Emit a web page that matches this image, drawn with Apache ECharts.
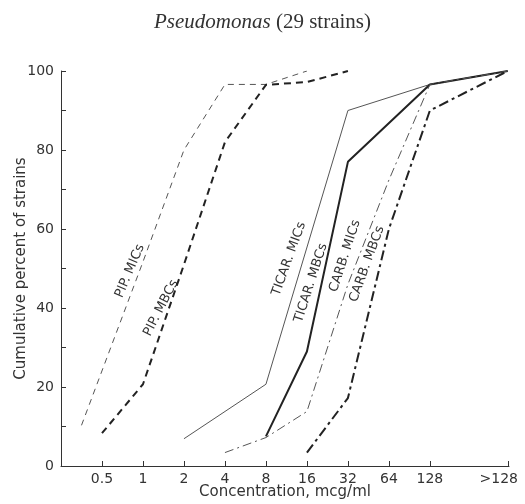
<!DOCTYPE html>
<html>
<head>
<meta charset="utf-8">
<script src="https://cdn.jsdelivr.net/npm/echarts@6/dist/echarts.min.js"></script>
<style>html,body{margin:0;padding:0;background:#fff}#c{width:525px;height:504px}</style>
</head>
<body>
<div id="c"></div>
<script>
// x positions are log2 of concentration (mcg/ml); ">128" placed past 128
const xTickLabels = ['0.5','1','2','4','8','16','32','64','128','>128'];
const xTickPos = [-1, 0, 1, 2, 3, 4, 5, 6, 7, 8.9];
const xLabelPos = [-1, 0, 1, 2, 3, 4, 5, 6, 7, 8.68];
const yTickLabels = [0, 20, 40, 60, 80, 100];
const yTicks = [0, 10, 20, 30, 40, 50, 60, 70, 80, 90, 100];

const pipMICs   = [[-1.5, 10.3], [0, 51.7], [1, 80], [2, 96.6], [3, 96.6], [4, 100]];
const pipMBCs   = [[-1, 8.3], [0, 20.7], [1, 51], [2, 82], [3, 96.5], [4, 97.2], [5, 100]];
const ticarMICs = [[1, 6.9], [3, 20.7], [5, 90], [7, 96.6], [8.9, 100]];
const ticarMBCs = [[3, 7.5], [4, 29], [5, 77], [7, 96.6], [8.9, 100]];
const carbMICs  = [[2, 3.4], [3, 7.2], [4, 13.8], [5, 46], [6, 72.4], [7, 96.6], [8.9, 100]];
const carbMBCs  = [[4, 3.4], [5, 17.2], [6, 60], [7, 90], [8.9, 100]];

const seriesNames = ['PIP. MICs', 'PIP. MBCs', 'TICAR. MICs', 'TICAR. MBCs', 'CARB. MICs', 'CARB. MBCs'];

const chart = echarts.init(document.getElementById('c'), null, {renderer: 'canvas'});
const sans = 'DejaVu Sans';
const thin = '#555', thick = '#222';

function line(name, data, width, color, type) {
  return {
    name: name, type: 'line', data: data, symbol: 'none', silent: true,
    lineStyle: {width: width, color: color, type: type}, animation: false
  };
}

const labelPos = [
  {t: seriesNames[0], x: 130, y: 271, r: 67},
  {t: seriesNames[1], x: 161, y: 308, r: 63},
  {t: seriesNames[2], x: 289, y: 259, r: 70},
  {t: seriesNames[3], x: 311, y: 283, r: 72},
  {t: seriesNames[4], x: 345, y: 256, r: 72},
  {t: seriesNames[5], x: 367, y: 264, r: 70}
];

chart.setOption({
  backgroundColor: '#fff',
  animation: false,
  grid: {left: 61, right: 16, top: 71, bottom: 38, containLabel: false, outerBoundsMode: 'none'},
  xAxis: {
    type: 'value', min: -2, max: 8.93,
    name: 'Concentration, mcg/ml', nameLocation: 'middle', nameGap: 19, nameMoveOverlap: false,
    nameTextStyle: {fontFamily: sans, fontSize: 15, color: '#333'},
    axisLine: {show: true, onZero: false, lineStyle: {color: '#333', width: 1}},
    axisTick: {show: true, inside: true, length: 5, customValues: xTickPos, lineStyle: {color: '#333'}},
    axisLabel: {
      customValues: xLabelPos, margin: 6, fontFamily: sans, fontSize: 14, color: '#333',
      formatter: function (v) { const i = xLabelPos.indexOf(v); return i >= 0 ? xTickLabels[i] : ''; }
    },
    splitLine: {show: false}
  },
  yAxis: {
    type: 'value', min: 0, max: 100,
    name: 'Cumulative percent of strains', nameLocation: 'middle', nameGap: 32, nameMoveOverlap: false,
    nameTextStyle: {fontFamily: sans, fontSize: 15, color: '#333'},
    axisLine: {show: true, onZero: false, lineStyle: {color: '#333', width: 1}},
    axisTick: {show: true, inside: true, length: 5, customValues: yTicks, lineStyle: {color: '#333'}},
    axisLabel: {customValues: yTickLabels, margin: 7, fontFamily: sans, fontSize: 14, color: '#333'},
    splitLine: {show: false}
  },
  series: [
    line(seriesNames[0], pipMICs, 1, thin, [6, 5]),
    line(seriesNames[1], pipMBCs, 2, thick, [7, 5]),
    line(seriesNames[2], ticarMICs, 1, thin, 'solid'),
    line(seriesNames[3], ticarMBCs, 2, thick, 'solid'),
    line(seriesNames[4], carbMICs, 1, thin, [9, 4, 2, 4]),
    line(seriesNames[5], carbMBCs, 2, thick, [10, 4, 3, 4])
  ],
  graphic: [
    {
      type: 'text', left: 'center', top: 12,
      style: {
        text: '{i|Pseudomonas} (29 strains)',
        rich: {i: {fontStyle: 'italic', fontFamily: 'Liberation Serif', fontSize: 21, fill: '#333'}},
        fontFamily: 'Liberation Serif', fontSize: 21, fill: '#333'
      }
    }
  ].concat(labelPos.map(function (l) {
    return {
      type: 'text', x: l.x, y: l.y, rotation: l.r * Math.PI / 180,
      style: {text: l.t, fontFamily: sans, fontSize: 13, fill: '#333', align: 'center', verticalAlign: 'middle'}
    };
  }))
});
</script>
</body>
</html>
